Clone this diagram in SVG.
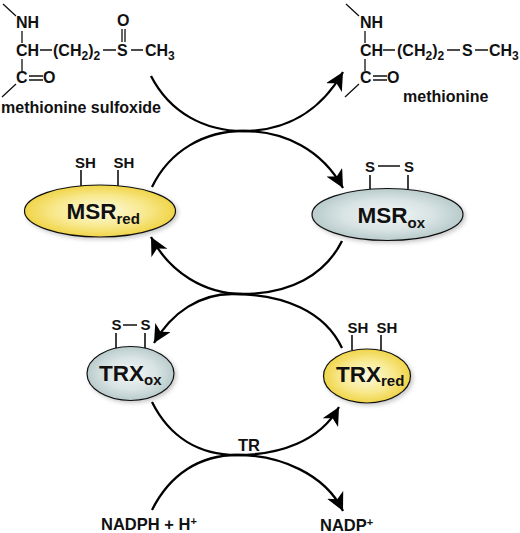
<svg xmlns="http://www.w3.org/2000/svg" width="520" height="533" viewBox="0 0 520 533">
<style>
text{font-family:"Liberation Sans",Arial,sans-serif;font-weight:bold;fill:#111}
.c{font-size:16px}
.s{font-size:15px}
.lab{font-size:16.500px}
.big{font-size:22.500px}
.b{stroke:#111;stroke-width:1.3;fill:none}
.st{stroke:#111;stroke-width:1.6;fill:none}
.arc{stroke:#000;stroke-width:2.3;fill:none;marker-end:url(#ah)}
.e{stroke:#111;stroke-width:1.2;filter:url(#sh)}
</style>
<defs>
<radialGradient id="y"><stop offset="0" stop-color="#fdfae0"/><stop offset=".6" stop-color="#f8e98e"/><stop offset="1" stop-color="#f0d448"/></radialGradient>
<radialGradient id="g"><stop offset="0" stop-color="#f2f6f6"/><stop offset=".6" stop-color="#d8e3e3"/><stop offset="1" stop-color="#b9cbcc"/></radialGradient>
<filter id="sh" x="-20%" y="-20%" width="140%" height="145%"><feDropShadow dx="2" dy="2" stdDeviation="2" flood-color="#000" flood-opacity=".22"/></filter>
<marker id="ah" markerUnits="userSpaceOnUse" markerWidth="22" markerHeight="20" refX="18" refY="9" orient="auto"><path d="M0 0L18 9L0 18L5 9Z" fill="#000"/></marker>
</defs>
<g id="connectors">
<path class="arc" d="M151 76C170 113 205 131 243 131C285 131 320 112 343 72"/>
<path class="arc" d="M152 187C170 150 205 131 243 131C285 131 322 150 343 188"/>
<path class="arc" d="M342 241C325 275 290 294 243 294C205 294 170 273 151 237"/>
<path class="arc" d="M342 348C325 312 285 294 232 294C200 294 172 312 154 343"/>
<path class="arc" d="M152 402C170 438 200 455 237 455C280 455 320 441 339 407"/>
<path class="arc" d="M152 510C170 474 200 455 237 455C280 455 325 474 343 511"/>
</g>
<g id="methionine-sulfoxide">
<path class="b" d="M3 4L16 16M22 31V43M22 59V71M16 84L2 97M40 50H52M103 50H116M131 50H143"/>
<path class="b" d="M29 76H43M29 80H43M122 29V42M125 29V42"/>
<text class="c" x="16" y="28">NH</text>
<text class="c" x="16" y="56">CH</text>
<text class="c" x="53" y="56">(CH<tspan font-size="12" dy="4">2</tspan><tspan dy="-4">)</tspan><tspan font-size="12" dy="4">2</tspan></text>
<text class="c" x="117" y="56">S</text>
<text class="c" x="145" y="56">CH<tspan font-size="12" dy="4">3</tspan></text>
<text class="c" x="117" y="26">O</text>
<text class="c" x="16" y="83">C</text>
<text class="c" x="43" y="83">O</text>
<text class="c" x="1" y="113">methionine sulfoxide</text>
</g>
<g id="methionine">
<path class="b" d="M346 4L359 16M365 31V43M365 59V71M359 84L345 97M383 50H395M447 50H460M475 50H488"/>
<path class="b" d="M373 76H387M373 80H387"/>
<text class="c" x="360" y="28">NH</text>
<text class="c" x="360" y="56">CH</text>
<text class="c" x="397" y="56">(CH<tspan font-size="12" dy="4">2</tspan><tspan dy="-4">)</tspan><tspan font-size="12" dy="4">2</tspan></text>
<text class="c" x="462" y="56">S</text>
<text class="c" x="489" y="56">CH<tspan font-size="12" dy="4">3</tspan></text>
<text class="c" x="387" y="83">O</text>
<text class="c" x="360" y="83">C</text>
<text class="c" x="403" y="102">methionine</text>
</g>
<g id="msr-red">
<path class="st" d="M81 170V186M118 170V186"/>
<ellipse class="e" cx="100" cy="211" rx="75.500" ry="26" fill="url(#y)"/>
<text class="s" x="75" y="168">SH</text>
<text class="s" x="113.500" y="168">SH</text>
<text class="big" x="66.500" y="219">MSR<tspan font-size="15" dy="5">red</tspan></text>
</g>
<g id="msr-ox">
<path class="st" d="M370 175V189M408 175V189M378 166H400"/>
<ellipse class="e" cx="387.500" cy="214.500" rx="75.500" ry="26" fill="url(#g)"/>
<text class="s" x="365" y="172">S</text>
<text class="s" x="404" y="172">S</text>
<text class="big" x="357.500" y="223">MSR<tspan font-size="15" dy="5">ox</tspan></text>
</g>
<g id="trx-ox">
<path class="st" d="M116 333V348M145 333V348M123 325H137"/>
<ellipse class="e" cx="130.500" cy="373.500" rx="43.500" ry="27" fill="url(#g)"/>
<text class="s" x="111.500" y="330">S</text>
<text class="s" x="140.500" y="330">S</text>
<text class="big" x="99" y="381">TRX<tspan font-size="15" dy="4">ox</tspan></text>
</g>
<g id="trx-red">
<path class="st" d="M352 335V350M381 335V350"/>
<ellipse class="e" cx="367" cy="376" rx="43.500" ry="27" fill="url(#y)"/>
<text class="s" x="347.500" y="333">SH</text>
<text class="s" x="376.500" y="333">SH</text>
<text class="big" x="336" y="382">TRX<tspan font-size="15" dy="4">red</tspan></text>
</g>
<g id="labels">
<text class="lab" x="238" y="451">TR</text>
<text class="lab" x="101" y="530">NADPH + H<tspan font-size="11" dy="-5">+</tspan></text>
<text class="lab" x="320" y="531">NADP<tspan font-size="11" dy="-5">+</tspan></text>
</g>
</svg>
